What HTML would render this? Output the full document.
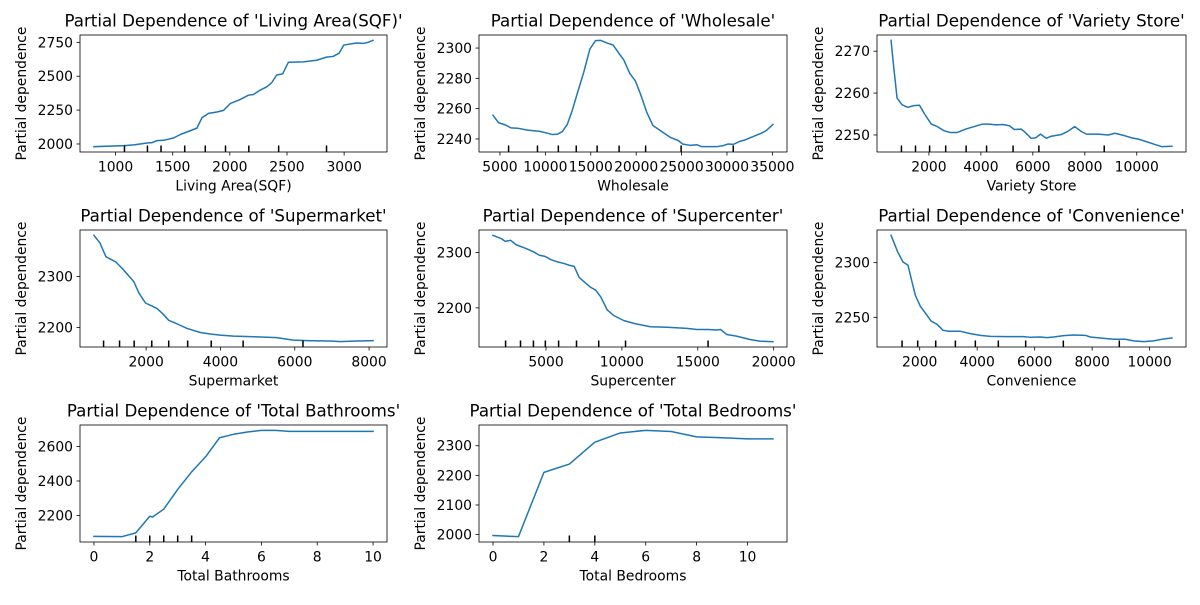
<!DOCTYPE html>
<html><head><meta charset="utf-8"><style>
html,body{margin:0;padding:0;background:#fff;}
svg text{font-family:"DejaVu Sans","Liberation Sans",sans-serif;fill:#000;}
</style></head><body>
<svg id="fig" xmlns="http://www.w3.org/2000/svg" width="1200" height="600" viewBox="0 0 1200 600">
<rect width="1200" height="600" fill="#fff"/>
</svg>
<script>
// ---- data ----
const p1X=[811,1073,1160,1276,1320,1363,1422,1509,1567,1712,1756,1814,1887,1945,2003,2090,2163,2206,2265,2323,2366,2410,2462,2512,2642,2759,2846,2904,2956,2997,3108,3166,3209,3253];
const p1Y=[1980,1988,1993,2007,2010,2025,2027,2045,2070,2117,2194,2226,2236,2248,2298,2328,2360,2365,2397,2422,2452,2509,2517,2603,2606,2618,2641,2646,2670,2730,2745,2742,2750,2765];
const p1Rug=[1078,1279,1398,1605,1785,1962,2166,2427,2846];
const p1XTicks=[1000,1500,2000,2500,3000];
const p1YTicks=[2000,2250,2500,2750];

const p2X=[4233,4854,5585,6206,6936,8033,9311,10225,10773,11320,11869,12417,12965,13513,14244,14901,15522,16070,16800,17459,18080,18628,19286,19907,20455,21185,21843,22647,23743,24657,25095,25935,26667,27214,28858,29589,30137,30685,31416,31964,32877,33790,34338,35069];
const p2Y=[2255.6,2250.7,2249.3,2247.3,2247.1,2245.8,2245.1,2243.8,2242.9,2243.1,2244.9,2249.6,2258.9,2270,2284.4,2299.3,2304.9,2305.1,2303.3,2302,2296.7,2292.2,2283.3,2278.4,2270,2257.3,2248.9,2245.6,2241.1,2238.9,2236.7,2235.8,2236.2,2234.9,2234.9,2235.6,2236.7,2236.4,2238.4,2239.3,2241.6,2243.8,2245.6,2249.6];
const p2Rug=[5950,9130,11430,13400,15700,18120,21040,24950,30690];
const p2XTicks=[5000,10000,15000,20000,25000,30000,35000];
const p2YTicks=[2240,2260,2280,2300];

const p3X=[542,645,774,968,1187,1419,1639,1832,2090,2323,2581,2813,3097,3419,3742,4065,4323,4581,4839,5097,5290,5548,5677,5935,6103,6297,6516,6710,7097,7355,7613,7871,8065,8516,8903,9161,9548,9806,10065,10323,10710,10968,11355];
const p3Y=[2272.6,2266.2,2258.8,2257.2,2256.6,2257,2257.1,2255,2252.6,2252,2251,2250.6,2250.6,2251.4,2252,2252.6,2252.6,2252.4,2252.5,2252.2,2251.3,2251.4,2250.8,2249.2,2249.3,2250.2,2249.2,2249.7,2250.1,2250.9,2252,2250.8,2250.2,2250.2,2250,2250.4,2249.8,2249.3,2249,2248.5,2247.7,2247.2,2247.3];
const p3Rug=[942,1484,2026,2645,3432,4219,5239,6232,8748];
const p3XTicks=[2000,4000,6000,8000,10000];
const p3YTicks=[2250,2260,2270];

const p4X=[596,757,918,1177,1356,1535,1669,1803,1982,2161,2295,2447,2608,2832,3100,3458,3726,3994,4352,4799,5514,5961,6319,7034,7213,7571,8107];
const p4Y=[2381,2366,2339,2329,2316,2301,2290,2268,2248,2242,2237,2227,2214,2207,2198,2190,2187,2185,2183,2182,2180,2175,2174,2173,2172,2173,2174];
const p4Rug=[855,1285,1678,2152,2608,3118,3753,4611,6221];
const p4XTicks=[2000,4000,6000,8000];
const p4YTicks=[2200,2300];

const p5X=[1507,2052,2314,2664,3035,3690,4192,4563,4934,5328,5764,6201,6528,6856,7183,7511,7948,8275,8603,9039,9476,10131,10786,11878,12969,14279,14934,15699,16201,16507,16900,17555,18428,19083,19956];
const p5Y=[2331,2325,2320,2322,2314,2307,2301,2295,2293,2287,2283,2280,2277,2275,2255,2247,2237,2232,2220,2196,2186,2177,2172,2166,2165,2163,2161,2161,2160,2161,2152,2149,2143,2140,2139];
const p5Rug=[2336,3319,4170,4956,5830,7009,8472,10240,15677];
const p5XTicks=[5000,10000,15000,20000];
const p5YTicks=[2200,2300];

const p6X=[1003,1235,1420,1594,1733,1849,2023,2255,2394,2603,2812,3009,3414,3762,4110,4458,5038,5617,5849,6197,6429,6661,7009,7357,7762,7936,8284,8748,9154,9443,9791,10139,10487,10777];
const p6Y=[2325,2309.8,2300.6,2297.6,2282.3,2270.1,2260.1,2251.8,2246.6,2243.6,2238.1,2237.2,2237.2,2235.1,2233.5,2232.6,2232.3,2232.3,2231.7,2232,2231.4,2232,2233.2,2233.8,2233.5,2232,2231.1,2229.9,2229.9,2228.4,2227.7,2228.4,2230.2,2231.1];
const p6Rug=[1386,1930,2557,3241,3936,4736,5687,6997,8945];
const p6XTicks=[2000,4000,6000,8000,10000];
const p6YTicks=[2250,2300];

const p7X=[0,1,1.5,2,2.1,2.5,3,3.5,4,4.5,5,5.5,6,6.5,7,8,9,10];
const p7Y=[2080,2078,2100,2196,2192,2237,2351,2453,2540,2650,2670,2683,2693,2693,2687,2687,2687,2687];
const p7Rug=[1.5,2,2.5,3,3.5];
const p7XTicks=[0,2,4,6,8,10];
const p7YTicks=[2200,2400,2600];

const p8X=[0,1,2,3,4,5,6,7,8,9,10,11];
const p8Y=[1997,1993,2210,2238,2312,2343,2352,2348,2330,2327,2323,2323];
const p8Rug=[3,4];
const p8XTicks=[0,2,4,6,8,10];
const p8YTicks=[2000,2100,2200,2300];

const NS='http://www.w3.org/2000/svg';
const fig=document.getElementById('fig');
function mk(tag,attrs,parent){const e=document.createElementNS(NS,tag);for(const k in attrs)e.setAttribute(k,attrs[k]);(parent||fig).appendChild(e);return e;}

const panels=[
 {feat:'Living Area(SQF)',slug:'living-area',X:p1X,Y:p1Y,rug:p1Rug,xt:p1XTicks,yt:p1YTicks,l:80,r:387,t:35,b:152},
 {feat:'Wholesale',slug:'wholesale',X:p2X,Y:p2Y,rug:p2Rug,xt:p2XTicks,yt:p2YTicks,l:479,r:787,t:35,b:152},
 {feat:'Variety Store',slug:'variety-store',X:p3X,Y:p3Y,rug:p3Rug,xt:p3XTicks,yt:p3YTicks,l:877,r:1186,t:35,b:152},
 {feat:'Supermarket',slug:'supermarket',X:p4X,Y:p4Y,rug:p4Rug,xt:p4XTicks,yt:p4YTicks,l:80,r:387,t:230,b:347},
 {feat:'Supercenter',slug:'supercenter',X:p5X,Y:p5Y,rug:p5Rug,xt:p5XTicks,yt:p5YTicks,l:479,r:787,t:230,b:347},
 {feat:'Convenience',slug:'convenience',X:p6X,Y:p6Y,rug:p6Rug,xt:p6XTicks,yt:p6YTicks,l:877,r:1186,t:230,b:347},
 {feat:'Total Bathrooms',slug:'total-bathrooms',X:p7X,Y:p7Y,rug:p7Rug,xt:p7XTicks,yt:p7YTicks,l:80,r:387,t:425,b:542},
 {feat:'Total Bedrooms',slug:'total-bedrooms',X:p8X,Y:p8Y,rug:p8Rug,xt:p8XTicks,yt:p8YTicks,l:479,r:787,t:425,b:542}
];

panels.forEach(p=>{
  const g=mk('g',{});
  
  
  const xmn=Math.min(...p.X),xmx=Math.max(...p.X),ymn=Math.min(...p.Y),ymx=Math.max(...p.Y);
  const x0=xmn-(xmx-xmn)*0.05,x1=xmx+(xmx-xmn)*0.05,y0=ymn-(ymx-ymn)*0.05,y1=ymx+(ymx-ymn)*0.05;
  const sx=v=>p.l+(v-x0)/(x1-x0)*(p.r-p.l);
  const sy=v=>p.b-(v-y0)/(y1-y0)*(p.b-p.t);
  // line
  const d=p.X.map((v,i)=>(i?'L':'M')+sx(v).toFixed(2)+','+sy(p.Y[i]).toFixed(2)).join(' ');
  const line=mk('path',{d:d,fill:'none',stroke:'#1f77b4','stroke-width':1.5,'stroke-linejoin':'round','stroke-linecap':'square'},g);
  
  
  // rug deciles
  p.rug.forEach(v=>{
    const rl=mk('line',{x1:sx(v),x2:sx(v),y1:p.b,y2:p.b-6.5,stroke:'#000','stroke-width':1.5},g);
    
    
  });
  // frame
  const fr=mk('rect',{x:p.l,y:p.t,width:p.r-p.l,height:p.b-p.t,fill:'none',stroke:'#000','stroke-width':0.8},g);
  
  
  // x ticks
  p.xt.forEach(v=>{
    const x=sx(v);
    mk('line',{x1:x,x2:x,y1:p.b,y2:p.b+3.5,stroke:'#000','stroke-width':0.8},g);
    const tx=mk('text',{x:x,y:p.b+19.5,'text-anchor':'middle','font-size':'13.9px'},g);
    tx.textContent=String(v);
    
    
  });
  // y ticks
  p.yt.forEach(v=>{
    const y=sy(v);
    mk('line',{x1:p.l,x2:p.l-3.5,y1:y,y2:y,stroke:'#000','stroke-width':0.8},g);
    const ty=mk('text',{x:p.l-7,y:y+5,'text-anchor':'end','font-size':'13.9px'},g);
    ty.textContent=String(v);
    
    
  });
  // title
  const ti=mk('text',{x:(p.l+p.r)/2,y:p.t-8.3,'text-anchor':'middle','font-size':'16.67px'},g);
  ti.textContent="Partial Dependence of '"+p.feat+"'";
  
  
  // x label
  const xl=mk('text',{x:(p.l+p.r)/2,y:p.b+38.5,'text-anchor':'middle','font-size':'13.9px'},g);
  xl.textContent=p.feat;
  
  
  // y label
  const cy=(p.t+p.b)/2,cx=p.l-54;
  const yl=mk('text',{x:cx,y:cy,'text-anchor':'middle','font-size':'13.9px',transform:'rotate(-90 '+cx+' '+cy+')'},g);
  yl.textContent='Partial dependence';
  
  
});
</script>
</body></html>
